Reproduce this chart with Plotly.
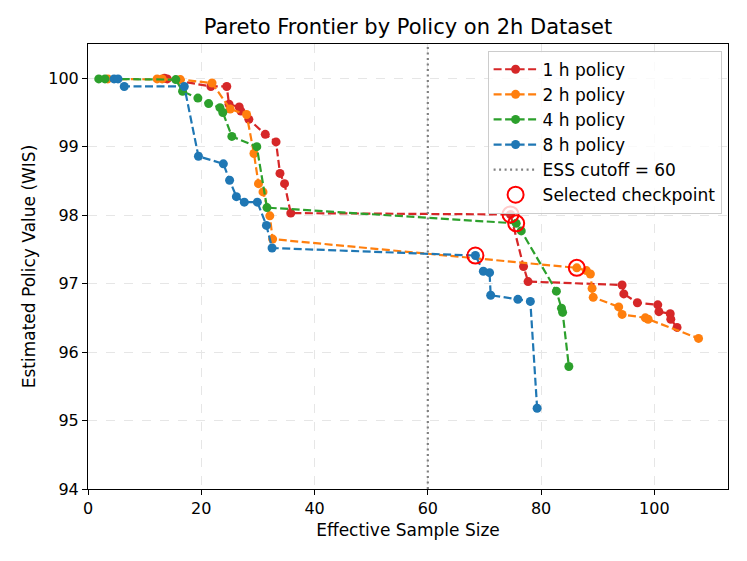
import plotly.graph_objects as go

# ---- data ----
ess_1h = [13.5, 14.0, 21.7, 24.5, 24.9, 26.7, 27.0, 28.4, 31.3, 33.2, 33.9, 34.7, 35.8,
          74.6, 76.9, 77.7, 94.3, 94.6, 97.0, 100.6, 100.8, 102.8, 102.9, 104.0]
val_1h = [100.0, 99.99, 99.88, 99.88, 99.62, 99.58, 99.52, 99.40, 99.18, 99.07, 98.61, 98.46, 98.03,
          98.01, 97.25, 97.03, 96.98, 96.85, 96.72, 96.69, 96.59, 96.56, 96.48, 96.36]

ess_2h = [3.5, 12.2, 13.1, 16.3, 21.9, 25.1, 28.0, 29.3, 30.1, 30.9, 32.1, 32.6,
          86.3, 88.0, 88.7, 89.0, 89.2, 93.7, 94.3, 98.4, 98.9, 107.8]
val_2h = [99.99, 99.99, 99.99, 99.98, 99.93, 99.55, 99.47, 98.90, 98.46, 98.34, 97.99, 97.65,
          97.23, 97.19, 97.14, 96.93, 96.80, 96.66, 96.55, 96.50, 96.48, 96.20]

ess_4h = [1.9, 3.0, 15.5, 16.7, 19.4, 21.3, 23.3, 23.8, 25.4, 29.8, 31.6,
          75.6, 76.5, 82.7, 83.6, 83.8, 84.9]
val_4h = [99.99, 99.99, 99.98, 99.81, 99.71, 99.63, 99.57, 99.50, 99.15, 99.00, 98.11,
          97.88, 97.77, 96.89, 96.64, 96.58, 95.79]

ess_8h = [4.6, 5.3, 6.4, 17.0, 19.5, 23.9, 25.0, 26.2, 27.6, 29.9, 31.5, 32.5,
          68.4, 69.8, 70.9, 71.1, 75.9, 78.1, 79.3]
val_8h = [99.99, 99.99, 99.88, 99.88, 98.86, 98.75, 98.51, 98.27, 98.19, 98.19, 97.85, 97.52,
          97.41, 97.18, 97.16, 96.83, 96.77, 96.74, 95.18]

series_names = ["1 h policy", "2 h policy", "4 h policy", "8 h policy"]
series_colors = ["#d62728", "#ff7f0e", "#2ca02c", "#1f77b4"]
series_x = [ess_1h, ess_2h, ess_4h, ess_8h]
series_y = [val_1h, val_2h, val_4h, val_8h]

selected_x = [74.6, 86.3, 75.6, 68.4]
selected_y = [98.01, 97.23, 97.88, 97.41]

ess_cutoff = 60
x_range = [0, 113]
y_range = [94, 100.5]
x_ticks = [0, 20, 40, 60, 80, 100]
y_ticks = [94, 95, 96, 97, 98, 99, 100]

FONT = "DejaVu Sans"

fig = go.Figure()
for i, (name, color, xs, ys) in enumerate(zip(series_names, series_colors, series_x, series_y)):
    fig.add_trace(go.Scatter(
        x=xs, y=ys, mode="lines+markers", name=name, legendgroup=f"g{i}",
        line=dict(color=color, width=2.2, dash="8px,3.5px"),
        marker=dict(color=color, size=9, line=dict(color=color, width=0)),
    ))

fig.add_trace(go.Scatter(
    x=[ess_cutoff, ess_cutoff], y=y_range, mode="lines",
    name=f"ESS cutoff = {ess_cutoff}", legendgroup="g4",
    line=dict(color="#808080", width=2.2, dash="2px,3.5px"),
))

fig.add_trace(go.Scatter(
    x=selected_x, y=selected_y, mode="markers", name="Selected checkpoint",
    legendgroup="g5",
    marker=dict(symbol="circle-open", size=16, color="red", line=dict(color="red", width=2)),
))

axis_common = dict(
    showline=True, linecolor="black", linewidth=1, mirror=True,
    ticks="outside", ticklen=5, tickwidth=1, tickcolor="black",
    showgrid=True, gridcolor="#e6e6e6", griddash="dash", gridwidth=1,
    zeroline=False, tickfont=dict(family=FONT, size=16, color="black"),
)

fig.update_layout(
    width=747, height=561,
    margin=dict(l=80, r=27, t=36, b=80),
    paper_bgcolor="white", plot_bgcolor="white",
    font=dict(family=FONT, color="black"),
    title=dict(text="Pareto Frontier by Policy on 2h Dataset", x=0.5, xref="paper",
               y=1 - 19 / 561, yref="container", yanchor="middle",
               font=dict(family=FONT, size=21, color="black")),
    xaxis=dict(range=x_range, tickvals=x_ticks,
               title=dict(text="Effective Sample Size", font=dict(family=FONT, size=17), standoff=6),
               **axis_common),
    yaxis=dict(range=y_range, tickvals=y_ticks,
               title=dict(text="Estimated Policy Value (WIS)", font=dict(family=FONT, size=17), standoff=8),
               **axis_common),
    legend=dict(x=0.99, xanchor="right", y=0.985, yanchor="top",
                bgcolor="rgba(255,255,255,0.8)", bordercolor="#cccccc", borderwidth=1,
                font=dict(family=FONT, size=17, color="black"),
                tracegroupgap=0, itemwidth=44),
    showlegend=True,
)

fig.write_html("out.html")
